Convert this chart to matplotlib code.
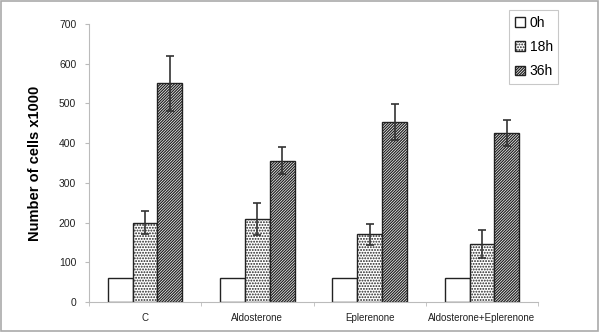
import numpy as np
import matplotlib.pyplot as plt
from matplotlib.patches import Rectangle

plt.rcParams['font.family'] = ['Liberation Sans', 'DejaVu Sans']
plt.rcParams['hatch.linewidth'] = 0.9

categories = ['C', 'Aldosterone', 'Eplerenone', 'Aldosterone+Eplerenone']
series = ['0h', '18h', '36h']
vals_0h = [60, 60, 60, 60]
vals_18h = [200, 208, 170, 145]
vals_36h = [551, 356, 454, 425]
err_0h = [0, 0, 0, 0]
err_18h = [30, 40, 26, 35]
err_36h = [69, 33, 45, 32]

fig = plt.figure(figsize=(6, 3.32), dpi=100)
ax = fig.add_axes([0.148, 0.0904, 0.749, 0.8376])

x = np.arange(len(categories))
w = 0.222
hatches = ['', '......', '////////////']
data = [vals_0h, vals_18h, vals_36h]
errs = [err_0h, err_18h, err_36h]
for i, (v, e, h, lab) in enumerate(zip(data, errs, hatches, series)):
    xs = x + (i - 1) * w
    ax.bar(xs, v, w, color='white', edgecolor='#222222', hatch=h,
           linewidth=1.0, label=lab, zorder=2)
    if i > 0:
        ax.errorbar(xs, v, yerr=e, fmt='none', ecolor='#333333',
                    elinewidth=1.2, capsize=3, capthick=1.2, zorder=3)

ax.set_xlim(-0.5, len(categories) - 0.5)
ax.set_ylim(0, 700)
ax.set_yticks(range(0, 701, 100))
ax.set_xticks(x)
ax.set_xticklabels(categories, fontsize=7, color='#222222')
ax.set_xticks(np.arange(-0.5, len(categories), 1), minor=True)
ax.tick_params(axis='x', which='major', length=0, pad=8)
ax.tick_params(axis='x', which='minor', length=3, color='#bbbbbb', direction='out')
ax.tick_params(axis='y', labelsize=7.5, labelcolor='#222222', length=3,
               color='#bbbbbb', pad=6)
for s in ['top', 'right']:
    ax.spines[s].set_visible(False)
for s in ['left', 'bottom']:
    ax.spines[s].set_color('#bbbbbb')
ax.set_ylabel('Number of cells x1000', fontsize=10.5, fontweight='bold', labelpad=12)

leg = ax.legend(loc='upper right', bbox_to_anchor=(1.045, 1.05), fontsize=10,
                frameon=True, fancybox=False, edgecolor='#bbbbbb',
                handlelength=0.7, handleheight=0.7, handletextpad=0.35,
                borderpad=0.4, labelspacing=0.75, borderaxespad=0)
leg.get_frame().set_linewidth(0.8)

fig.patches.append(Rectangle((0.002, 0.003), 0.994, 0.994, transform=fig.transFigure,
                             fill=False, edgecolor='#aaaaaa', linewidth=1.2))

fig.savefig('out.png', dpi=100)
